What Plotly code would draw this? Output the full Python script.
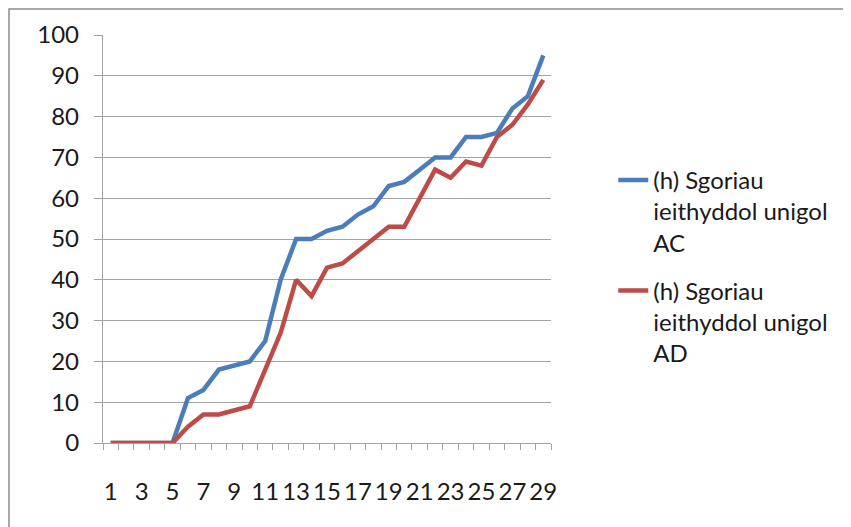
import plotly.graph_objects as go

categories = [str(i) for i in range(1, 30)]
series_ac = [0, 0, 0, 0, 0, 11, 13, 18, 19, 20, 25, 40, 50, 50, 52, 53, 56, 58, 63, 64, 67, 70, 70, 75, 75, 76, 82, 85, 95]
series_ad = [0, 0, 0, 0, 0, 4, 7, 7, 8, 9, 18, 27, 40, 36, 43, 44, 47, 50, 53, 53, 60, 67, 65, 69, 68, 75, 78, 83, 89]
name_ac = "(h) Sgoriau<br>ieithyddol unigol<br>AC"
name_ad = "(h) Sgoriau<br>ieithyddol unigol<br>AD"
x_tick_labels = [c if int(c) % 2 == 1 else "" for c in categories]

FONT = "Lato"
GRID = "#A3A3A3"
TXT = "#1a1a1a"
FS = 24

fig = go.Figure()
fig.add_trace(go.Scatter(x=categories, y=series_ac, name=name_ac, mode="lines", legendgroup="ac",
                         line=dict(color="#4A7EBB", width=4.5)))
fig.add_trace(go.Scatter(x=categories, y=series_ad, name=name_ad, mode="lines", legendgroup="ad",
                         line=dict(color="#BE4B48", width=4.5)))

fig.update_layout(
    width=851, height=527,
    margin=dict(l=95, r=308, t=27, b=92),
    paper_bgcolor="white", plot_bgcolor="white",
    font=dict(family=FONT, size=FS, color=TXT),
    showlegend=True,
    legend=dict(x=1.139, y=0.699, xanchor="left", yanchor="top",
                valign="top", font=dict(family=FONT, size=FS, color=TXT),
                tracegroupgap=14, bgcolor="rgba(0,0,0,0)"),
    xaxis=dict(type="category", range=[-0.5, len(categories) - 0.5],
               tickmode="array", tickvals=categories, ticktext=x_tick_labels,
               tickson="boundaries", ticks="outside", ticklen=6, tickcolor=GRID, tickwidth=1.3,
               showline=True, linecolor=GRID, linewidth=1.3, showgrid=False, automargin=False,
               ticklabelstandoff=27, tickangle=0, zeroline=False,
               tickfont=dict(family=FONT, size=FS, color=TXT)),
    yaxis=dict(range=[0, 100], dtick=10, tick0=0, ticks="outside", ticklen=8,
               tickcolor=GRID, tickwidth=1.3, showline=True, linecolor=GRID, linewidth=1.3,
               showgrid=True, gridcolor=GRID, gridwidth=1.3, zeroline=False, automargin=False,
               ticklabelstandoff=10,
               tickfont=dict(family=FONT, size=FS, color=TXT)),
    shapes=[dict(type="rect", xref="paper", yref="paper",
                 x0=-0.2098, x1=1.72, y0=-0.25, y1=1.0637,
                 line=dict(color="#8C8C8C", width=1.5), fillcolor="rgba(0,0,0,0)", layer="below")],
)

fig.write_html("out.html")
